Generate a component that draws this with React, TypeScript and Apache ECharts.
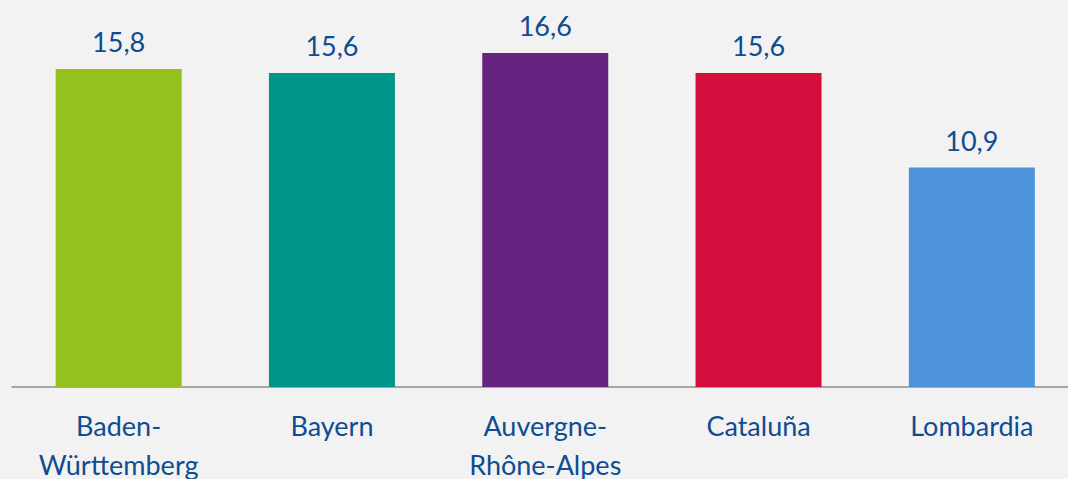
import React, { useEffect, useRef } from "react";
import * as echarts from "echarts";

const categories = ["Baden-\nWürttemberg", "Bayern", "Auvergne-\nRhône-Alpes", "Cataluña", "Lombardia"];
const values = [15.8, 15.6, 16.6, 15.6, 10.9];
const colors = ["#95c11f", "#00968b", "#65247f", "#d40f3d", "#4d93db"];

const TEXT = "#0f4c92";
const FONT = "Lato";

export default function App() {
  const ref = useRef<HTMLDivElement>(null);
  useEffect(() => {
    if (!ref.current) return;
    const chart = echarts.init(ref.current, null, { renderer: "svg" });
    chart.setOption({
      animation: false,
      backgroundColor: "#f2f2f2",
      grid: {
        left: 12,
        right: 1.5,
        top: 24.7,
        bottom: 92,
        containLabel: false,
        outerBoundsMode: "none",
      },
      xAxis: {
        type: "category",
        data: categories,
        axisLine: { lineStyle: { color: "#8c8c8c", width: 1.5 } },
        axisTick: { show: false },
        axisLabel: {
          color: TEXT,
          fontFamily: FONT,
          fontSize: 27,
          lineHeight: 39,
          margin: 19,
          interval: 0,
        },
      },
      yAxis: {
        type: "value",
        min: 0,
        max: 18,
        show: false,
        splitLine: { show: false },
      },
      series: [
        {
          type: "bar",
          barWidth: 126,
          data: values.map((v, i) => ({ value: v, itemStyle: { color: colors[i] } })),
          label: {
            show: true,
            position: "top",
            distance: 14,
            color: TEXT,
            fontFamily: FONT,
            fontSize: 27,
            formatter: (p: any) => String(p.value).replace(".", ","),
          },
        },
      ],
    });
    return () => chart.dispose();
  }, []);
  return (
    <div style={{ position: "absolute", left: 0, top: 0, width: 1068, height: 479, overflow: "hidden" }}>
      <div ref={ref} style={{ width: 1080, height: 479 }} />
    </div>
  );
}
